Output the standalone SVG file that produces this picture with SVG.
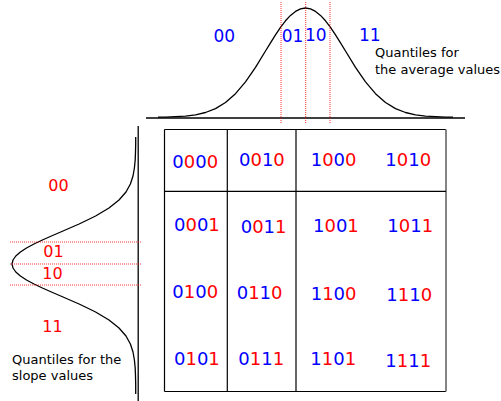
<svg xmlns="http://www.w3.org/2000/svg" width="501" height="401" viewBox="0 0 501 401">
<style>
text{font-family:"DejaVu Sans","Liberation Sans",sans-serif}
.b{fill:#0000ff}
.r{fill:#ff0000}
.k{fill:#000}
.cell{font-size:18px}
.lbl{font-size:17px}
.lbl2{font-size:16px}
.cap{font-size:13px;fill:#000}
.curve{fill:none;stroke:#000;stroke-width:1.3;stroke-linejoin:round}
.axis{stroke:#000;stroke-width:1.3}
.q{stroke:#ff0000;stroke-width:1;stroke-dasharray:1 1;opacity:0.8}
.grid{fill:none;stroke:#000;stroke-width:1.2}
</style>
<rect width="501" height="401" fill="#fff"/>

<g id="average-distribution">
<line class="axis" x1="146" y1="118" x2="465" y2="118"/>
<polyline class="curve" points="158,117.2 165.5,117.1 175.5,116.7 185.5,116.1 195.5,114.8 205.5,112.5 215.5,108.6 225.5,102.5 235.5,93.7 245.5,81.8 255.5,67.3 265.5,51.0 270.5,42.8 275.5,34.8 280.5,27.4 285.5,20.8 290.5,15.4 295.5,11.4 300.5,8.9 305.5,8.0 310.5,8.9 315.5,11.4 320.5,15.4 325.5,20.8 330.5,27.4 335.5,34.8 340.5,42.8 345.5,51.0 355.5,67.3 365.5,81.8 375.5,93.7 385.5,102.5 395.5,108.6 405.5,112.5 415.5,114.8 425.5,116.1 435.5,116.7 445.5,117.1 453,117.2"/>
<text class="lbl b" x="213.5" y="42.3">00</text>
<text class="lbl b" x="281.7" y="42.3">01</text>
<text class="lbl b" x="305" y="41.3">10</text>
<text class="lbl b" x="359" y="40.7">11</text>
<text class="cap" x="375" y="57">Quantiles for</text>
<text class="cap" x="375" y="74">the average values</text>
</g>

<g id="slope-distribution">
<line class="axis" x1="138.2" y1="126" x2="138.2" y2="401"/>
<polyline class="curve" points="135.7,137 135.7,144 135.5,152 135.2,160 134.4,168 133.0,176 130.4,184 126.0,192 119.0,200 109.0,208 95.6,216 79.1,224 60.7,232 51.4,236 42.4,240 34.0,244 26.5,248 20.4,252 15.8,256 13.0,260 12,264 13.0,268 15.8,272 20.4,276 26.5,280 34.0,284 42.4,288 51.4,292 60.7,296 79.1,304 95.6,312 109.0,320 119.0,328 126.0,336 130.4,344 133.0,352 134.4,360 135.2,368 135.5,376 135.7,384 135.7,394"/>
<text class="lbl2 r" x="48.3" y="190.7">00</text>
<text class="lbl2 r" x="43.3" y="256.7">01</text>
<text class="lbl2 r" x="42.3" y="279.3">10</text>
<text class="lbl2 r" x="42.3" y="332">11</text>
<text class="cap" x="12" y="364">Quantiles for the</text>
<text class="cap" x="12" y="380">slope values</text>
</g>

<g id="connectors">
<line class="q" x1="281" y1="2" x2="281" y2="123"/>
<line class="q" x1="305.7" y1="2" x2="305.7" y2="123"/>
<line class="q" x1="330" y1="2" x2="330" y2="123"/>
<line class="q" x1="10" y1="242" x2="142" y2="242"/>
<line class="q" x1="10" y1="264" x2="142" y2="264"/>
<line class="q" x1="10" y1="285" x2="142" y2="285"/>
</g>

<g id="grid">
<line class="grid" x1="164.5" y1="129.5" x2="446" y2="129.5"/>
<line class="grid" x1="164.5" y1="391.5" x2="446" y2="391.5"/>
<line class="grid" x1="164.5" y1="129.5" x2="164.5" y2="391.5"/>
<line x1="446" y1="129.5" x2="446" y2="391.5" stroke="#777" stroke-width="1.8"/>
<line class="grid" x1="164.5" y1="191.3" x2="446" y2="191.3"/>
<line class="grid" x1="227.3" y1="129.5" x2="227.3" y2="391.5"/>
<line class="grid" x1="296" y1="129.5" x2="296" y2="391.5" stroke="#333"/>
</g>

<g id="cell-0000"><text class="cell" x="172.3" y="168.3"><tspan class="b">0</tspan><tspan class="r">0</tspan><tspan class="b">0</tspan><tspan class="r">0</tspan></text></g>
<g id="cell-0010"><text class="cell" x="239" y="165.7"><tspan class="b">0</tspan><tspan class="r">0</tspan><tspan class="b">1</tspan><tspan class="r">0</tspan></text></g>
<g id="cell-1000"><text class="cell" x="310.7" y="166"><tspan class="b">1</tspan><tspan class="r">0</tspan><tspan class="b">0</tspan><tspan class="r">0</tspan></text></g>
<g id="cell-1010"><text class="cell" x="385.3" y="166"><tspan class="b">1</tspan><tspan class="r">0</tspan><tspan class="b">1</tspan><tspan class="r">0</tspan></text></g>

<g id="cell-0001"><text class="cell" x="174" y="231"><tspan class="b">0</tspan><tspan class="r">0</tspan><tspan class="b">0</tspan><tspan class="r">1</tspan></text></g>
<g id="cell-0011"><text class="cell" x="240.7" y="233.3"><tspan class="b">0</tspan><tspan class="r">0</tspan><tspan class="b">1</tspan><tspan class="r">1</tspan></text></g>
<g id="cell-1001"><text class="cell" x="313" y="231.7"><tspan class="b">1</tspan><tspan class="r">0</tspan><tspan class="b">0</tspan><tspan class="r">1</tspan></text></g>
<g id="cell-1011"><text class="cell" x="387.3" y="231.7"><tspan class="b">1</tspan><tspan class="r">0</tspan><tspan class="b">1</tspan><tspan class="r">1</tspan></text></g>

<g id="cell-0100"><text class="cell" x="172.3" y="297.7"><tspan class="b">0</tspan><tspan class="r">1</tspan><tspan class="b">0</tspan><tspan class="r">0</tspan></text></g>
<g id="cell-0110"><text class="cell" x="236.7" y="299"><tspan class="b">0</tspan><tspan class="r">1</tspan><tspan class="b">1</tspan><tspan class="r">0</tspan></text></g>
<g id="cell-1100"><text class="cell" x="310.7" y="300"><tspan class="b">1</tspan><tspan class="r">1</tspan><tspan class="b">0</tspan><tspan class="r">0</tspan></text></g>
<g id="cell-1110"><text class="cell" x="386.3" y="300.7"><tspan class="b">1</tspan><tspan class="r">1</tspan><tspan class="b">1</tspan><tspan class="r">0</tspan></text></g>

<g id="cell-0101"><text class="cell" x="174" y="365"><tspan class="b">0</tspan><tspan class="r">1</tspan><tspan class="b">0</tspan><tspan class="r">1</tspan></text></g>
<g id="cell-0111"><text class="cell" x="238.3" y="365"><tspan class="b">0</tspan><tspan class="r">1</tspan><tspan class="b">1</tspan><tspan class="r">1</tspan></text></g>
<g id="cell-1101"><text class="cell" x="310.3" y="365"><tspan class="b">1</tspan><tspan class="r">1</tspan><tspan class="b">0</tspan><tspan class="r">1</tspan></text></g>
<g id="cell-1111"><text class="cell" x="385.3" y="366.7"><tspan class="b">1</tspan><tspan class="r">1</tspan><tspan class="b">1</tspan><tspan class="r">1</tspan></text></g>
</svg>
